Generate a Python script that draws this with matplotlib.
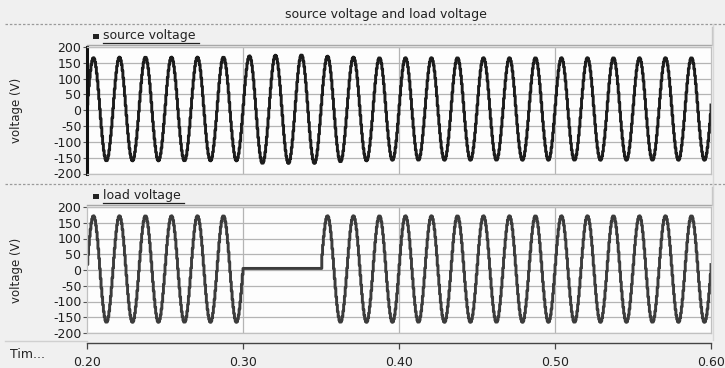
"""Source and load voltage during a short supply interruption (scope-style view)."""

import numpy as np
import matplotlib

matplotlib.use("Agg")
import matplotlib.pyplot as plt
from matplotlib.lines import Line2D
from matplotlib.patches import Rectangle

W, H = 725, 368

# --- values ------------------------------------------------------------------
t_start, t_end = 0.20, 0.60
freq_hz = 60.0
sample_step = 0.0005          # simulation output step (gives the stair look)
first_peak_time = 0.2039       # time of the first positive peak

# per-cycle positive / negative peaks, 24 cycles between 0.20 s and 0.60 s
source_pos_peaks = [166, 168, 168, 168, 168, 168, 172, 174, 175, 171, 168, 166,
                    166, 166, 166, 166, 166, 166, 166, 166, 166, 166, 166, 166]
source_neg_peaks = [-160, -160, -160, -160, -160, -160, -168, -168, -168, -163, -160, -158,
                    -158, -158, -158, -158, -158, -158, -158, -158, -158, -158, -158, -158]
load_pos_peaks = [172, 172, 172, 172, 172, 172, 172, 172, 172, 172, 172, 172,
                  172, 172, 172, 172, 172, 172, 172, 172, 172, 172, 172, 172]
load_neg_peaks = [-166, -166, -166, -166, -166, -166, -166, -166, -166, -166, -166, -166,
                  -166, -166, -166, -166, -166, -166, -166, -166, -166, -166, -166, -166]

outage_start, outage_end = 0.2998, 0.3504
outage_level = 5

y_ticks = [200, 150, 100, 50, 0, -50, -100, -150, -200]
x_ticks = [0.20, 0.30, 0.40, 0.50, 0.60]
x_tick_labels = ["0.20", "0.30", "0.40", "0.50", "0.60"]

BG = "#f0f0f0"
GRID = "#b4b4b4"
FONT = "DejaVu Sans"


def waveform(time, pos_peaks, neg_peaks):
    phase = 2 * np.pi * freq_hz * (time - first_peak_time) + np.pi / 2
    s = np.sin(phase)
    idx = np.clip(((time - t_start) * freq_hz).astype(int), 0, len(pos_peaks) - 1)
    pos = np.asarray(pos_peaks, float)[idx]
    neg = -np.asarray(neg_peaks, float)[idx]
    return np.where(s >= 0, s * pos, s * neg)


def px_axes(fig, x0, y0, x1, y1, **kw):
    return fig.add_axes([x0 / W, 1 - y1 / H, (x1 - x0) / W, (y1 - y0) / H], **kw)


def fig_line(fig, x0, y0, x1, y1, **kw):
    fig.add_artist(Line2D([x0 / W, x1 / W], [1 - y0 / H, 1 - y1 / H],
                          transform=fig.transFigure, **kw))


def legend_strip(fig, y_top, y_bot, label):
    fig_line(fig, 87, y_bot, 711, y_bot, color="#a8a8a8", lw=1.0)
    fig_line(fig, 711.5, y_top, 711.5, y_bot, color="#c8c8c8", lw=1.0)
    fig.add_artist(Rectangle((93 / W, 1 - (y_top + 11.5) / H), 6 / W, 5 / H,
                             transform=fig.transFigure, color="#222222", lw=0))
    txt = fig.text(103 / W, 1 - (y_top + 9) / H, label, fontsize=9, family=FONT,
                   color="#222222", va="center", ha="left")
    renderer = fig.canvas.get_renderer()
    bb = txt.get_window_extent(renderer)
    fig_line(fig, bb.x0, H - bb.y0 + 0.5, bb.x1 + 3, H - bb.y0 + 0.5,
             color="#222222", lw=0.9)


def style_panel(ax):
    ax.set_facecolor("#fdfdfd")
    ax.set_xlim(t_start, t_end)
    ax.set_ylim(-200, 200)
    ax.set_yticks(y_ticks)
    ax.set_yticklabels([str(v) for v in y_ticks], fontsize=9, family=FONT, color="#1e1e1e")
    ax.set_xticks([0.30, 0.40, 0.50])
    ax.tick_params(axis="x", length=0, labelbottom=False)
    ax.tick_params(axis="y", length=3, width=0.8, color="#555555", pad=1)
    ax.grid(True, color=GRID, lw=0.9)
    ax.set_axisbelow(True)
    for sp in ax.spines.values():
        sp.set_color("#c0c0c0")
        sp.set_linewidth(0.9)
    ax.set_ylabel("voltage (V)", fontsize=8.5, family=FONT, color="#222222")
    ax.yaxis.set_label_coords(-0.102, 0.5)


time = np.arange(t_start, t_end + sample_step / 2, sample_step)
source_v = waveform(time, source_pos_peaks, source_neg_peaks)
load_v = waveform(time, load_pos_peaks, load_neg_peaks)
load_v = np.where((time >= outage_start) & (time < outage_end), outage_level, load_v)

fig = plt.figure(figsize=(W / 100, H / 100), dpi=100, facecolor=BG)

# header
fig.text(386 / W, 1 - 14.5 / H, "source voltage and load voltage", fontsize=9,
         family=FONT, color="#222222", ha="center", va="center")
fig_line(fig, 5, 24, 725, 24, color="#9a9a9a", lw=0.9, ls=(0, (2, 1.5)))
fig_line(fig, 5, 183.5, 725, 183.5, color="#9a9a9a", lw=0.9, ls=(0, (2, 1.5)))
fig_line(fig, 713, 24, 713, 183, color="#d8d8d8", lw=1.0)
fig_line(fig, 713, 184, 713, 340, color="#d8d8d8", lw=1.0)

# top panel: source voltage
legend_strip(fig, 27, 45, "source voltage")
ax1 = px_axes(fig, 87, 47, 711, 173.5)
style_panel(ax1)
ax1.plot(time, source_v, color="#1c1c1c", lw=2.1, drawstyle="steps-post")
ax1.spines["left"].set_color("#111111")
ax1.spines["left"].set_linewidth(2.2)

# bottom panel: load voltage
legend_strip(fig, 187, 205, "load voltage")
ax2 = px_axes(fig, 87, 207, 711, 333)
style_panel(ax2)
ax2.plot(time, load_v, color="#3c3c3c", lw=2.1, drawstyle="steps-post")

# shared time axis
ax3 = px_axes(fig, 87, 338, 711, 343)
ax3.set_facecolor("none")
ax3.set_xlim(t_start, t_end)
ax3.set_yticks([])
for name in ("left", "right", "top"):
    ax3.spines[name].set_visible(False)
ax3.spines["bottom"].set_color("#444444")
ax3.spines["bottom"].set_linewidth(1.0)
ax3.set_xticks(x_ticks)
ax3.set_xticklabels(x_tick_labels, fontsize=9, family=FONT, color="#222222")
ax3.tick_params(axis="x", direction="out", length=4, width=0.9, color="#444444", pad=5)
fig_line(fig, 5, 341, 87, 341, color="#d0d0d0", lw=1.0)
fig.text(10 / W, 1 - 355 / H, "Tim...", fontsize=9, family=FONT, color="#222222",
         ha="left", va="center")

fig.savefig("out.png", dpi=100, facecolor=BG)
